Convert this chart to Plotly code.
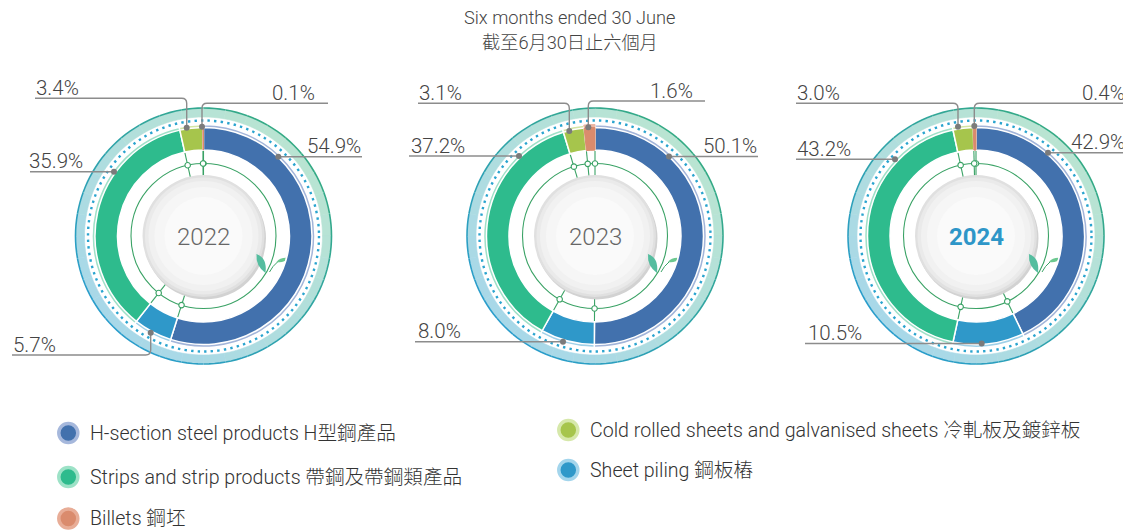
import math
import plotly.graph_objects as go

# ---------------- data ----------------
categories = [
    "H-section steel products H型鋼產品",
    "Sheet piling 鋼板樁",
    "Strips and strip products 帶鋼及帶鋼類產品",
    "Cold rolled sheets and galvanised sheets 冷軋板及鍍鋅板",
    "Billets 鋼坯",
]
years = ["2022", "2023", "2024"]
share_2022 = [54.9, 5.7, 35.9, 3.4, 0.1]
share_2023 = [50.1, 8.0, 37.2, 3.1, 1.6]
share_2024 = [42.9, 10.5, 43.2, 3.0, 0.4]
title_lines = ["Six months ended 30 June", "截至6月30日止六個月"]
shares = {"2022": share_2022, "2023": share_2023, "2024": share_2024}

# ---------------- style / layout ----------------
W, H = 1131, 531
OFF = 8  # page body margin of the browser
FONT = "Roboto, Liberation Sans, Noto Sans CJK TC, sans-serif"
main_colors = ["#4271ad", "#2f98c9", "#2ebb8d", "#a6c54c", "#da8b6d"]
light_colors = ["#a3b5d9", "#9fd0e8", "#a0e0c8", "#d3e5a5", "#ecb7a3"]
centers = [(203.5, 236), (595, 236), (976, 236)]
R_OUTER_LINE, R_BAND_IN = 128, 119
R_DOTS = 115.5
R_RIM, R_MAIN, R_IN = 111.5, 108.5, 86
R_THIN, R_DISK = 72.5, 61

# label layout per chart, per slice: (dot_x, dot_y, line_y, line_end_x, text_x, text_anchor)
label_layout = {
    "2022": [(278.3, 156.7, 156.7, 362, 362, "right"),
             (150.7, 332.7, 355.0, 12, 12, "left"),
             (114.0, 171.7, 171.7, 30, 28, "left"),
             (186.7, 127.7, 98.3, 35, 35, "left"),
             (202.0, 126.7, 103.3, 328, 316, "right")],
    "2023": [(669.0, 156.5, 156.5, 758, 758, "right"),
             (563.0, 341.7, 341.7, 415, 417, "left"),
             (519.0, 156.0, 156.0, 409, 410, "left"),
             (569.3, 131.0, 103.3, 418, 418, "left"),
             (588.3, 127.3, 101.0, 705, 694, "right")],
    "2024": [(1048.0, 152.7, 152.7, 1127, 1126, "right"),
             (981.7, 343.5, 343.5, 805, 807, "left"),
             (895.0, 159.3, 159.3, 796, 796, "left"),
             (958.0, 126.7, 103.3, 796, 796, "left"),
             (974.3, 126.0, 103.3, 1127, 1126, "right")],
}
legend_layout = [  # (slice index, marker x, marker y)
    (0, 68.3, 433), (2, 68.3, 477), (4, 68.3, 518.5),
    (3, 568.3, 430), (1, 568.3, 470),
]
legend_halo = ["#a6b8dc", "#a3d5ec", "#9de2c7", "#d6e8aa", "#e8ad97"]

PW, PH = W - OFF, H - OFF  # figure size inside the page margin


def mix(c1, c2, t):
    a = [int(c1[i:i + 2], 16) for i in (1, 3, 5)]
    b = [int(c2[i:i + 2], 16) for i in (1, 3, 5)]
    return "#" + "".join(f"{round(a[k] + (b[k] - a[k]) * t):02x}" for k in range(3))


def pt(cx, cy, r, th):
    return cx + r * math.sin(th), cy - r * math.cos(th)


fig = go.Figure()
shapes = []
annotations = []

# ---- title ----
annotations.append(dict(x=569.5, y=17, text=title_lines[0], showarrow=False, xref="x", yref="y",
                        borderpad=0, font=dict(family=FONT, size=18.2, color="#444444", weight=300)))
annotations.append(dict(x=569.5, y=42.5, text=title_lines[1], showarrow=False, xref="x", yref="y",
                        borderpad=0, font=dict(family=FONT, size=18.2, color="#444444", weight=300)))

conn_x, conn_y = [], []
for ci, yr in enumerate(years):
    cx, cy = centers[ci]
    vals = shares[yr]
    total = sum(vals)

    # outer gradient band + outline
    N = 36
    for j in range(N):
        a0, a1 = 2 * math.pi * j / N, 2 * math.pi * (j + 1) / N
        am = (a0 + a1) / 2
        t = 0.5 + 0.5 * (math.sin(am) + math.cos(am)) / math.sqrt(2)
        col = mix("#a8d8e8", "#b9e4d2", t)
        lcol = mix("#2a9dcc", "#34aa84", t)
        pts_o = [pt(cx, cy, R_OUTER_LINE - 0.5, a0 + (a1 - a0) * k / 4) for k in range(5)]
        pts_i = [pt(cx, cy, R_BAND_IN, a1 - (a1 - a0) * k / 4) for k in range(5)]
        path = "M " + " L ".join(f"{x:.2f},{y:.2f}" for x, y in pts_o + pts_i) + " Z"
        shapes.append(dict(type="path", path=path, xref="x", yref="y", layer="below",
                           fillcolor=col, line=dict(color=col, width=0.6)))
        pts_l = [pt(cx, cy, R_OUTER_LINE, a0 + (a1 - a0) * k / 4) for k in range(5)]
        lpath = "M " + " L ".join(f"{x:.2f},{y:.2f}" for x, y in pts_l)
        shapes.append(dict(type="path", path=lpath, xref="x", yref="y", layer="below",
                           line=dict(color=lcol, width=1.6)))

    # dotted ring
    shapes.append(dict(type="circle", xref="x", yref="y", layer="below",
                       x0=cx - R_DOTS, x1=cx + R_DOTS, y0=cy - R_DOTS, y1=cy + R_DOTS,
                       line=dict(color="#2aa4cf", width=2.4, dash="2.4px,4.2px")))

    # thin inner green circle
    shapes.append(dict(type="circle", xref="x", yref="y", layer="below",
                       x0=cx - R_THIN, x1=cx + R_THIN, y0=cy - R_THIN, y1=cy + R_THIN,
                       line=dict(color="#3aa265", width=1.1)))

    # connector lines at slice boundaries
    cum = 0.0
    for v in vals:
        th = 2 * math.pi * cum / total
        x0, y0 = pt(cx, cy, R_DISK - 2, th)
        x1, y1 = pt(cx, cy, R_IN + 1, th)
        shapes.append(dict(type="line", xref="x", yref="y", layer="below",
                           x0=x0, y0=y0, x1=x1, y1=y1, line=dict(color="#3aa265", width=1.1)))
        xc, yc = pt(cx, cy, R_THIN, th)
        conn_x.append(xc)
        conn_y.append(yc)
        cum += v

    # gray centre disk
    shapes.append(dict(type="circle", xref="x", yref="y", layer="below",
                       x0=cx - R_DISK + 1.5, x1=cx + R_DISK + 1.5, y0=cy - R_DISK + 2.5, y1=cy + R_DISK + 2.5,
                       fillcolor="#d2d2d2", line=dict(width=0)))
    for rr, col in [(R_DISK, "#e0e0e0"), (R_DISK - 2.5, "#eaeaea"), (R_DISK - 6, "#f1f1f1"),
                    (R_DISK - 12, "#f6f6f6"), (R_DISK - 22, "#fafafa")]:
        shapes.append(dict(type="circle", xref="x", yref="y", layer="below",
                           x0=cx - rr, x1=cx + rr, y0=cy - rr, y1=cy + rr,
                           fillcolor=col, line=dict(width=0)))

    # leaves
    def rel(dx, dy):
        return f"{cx + dx:.1f},{cy + dy:.1f}"
    shapes.append(dict(type="path", xref="x", yref="y", layer="below",
                       path=f"M {rel(53,18)} Q {rel(64,22)} {rel(62,37)} Q {rel(52,30)} {rel(53,18)} Z",
                       fillcolor="#55bd9f", line=dict(width=0)))
    shapes.append(dict(type="path", xref="x", yref="y", layer="below",
                       path=f"M {rel(73,26)} Q {rel(77,21)} {rel(85,22)} Q {rel(80,27.5)} {rel(73,26)} Z",
                       fillcolor="#6cc88f", line=dict(width=0)))
    shapes.append(dict(type="path", xref="x", yref="y", layer="below",
                       path=f"M {rel(74,26)} Q {rel(69,30)} {rel(66,36)}",
                       line=dict(color="#3aa265", width=1)))

    # donut: light rim + main ring
    line_ws = [1.5, 1.5, 1.5, 1.5, 1.0]
    for r, cols, lc in [(R_RIM, light_colors, ["white"] * 4 + [light_colors[4]]),
                        (R_MAIN, main_colors, ["white"] * 4 + [main_colors[4]])]:
        fig.add_trace(go.Pie(
            values=vals, labels=categories, sort=False, direction="clockwise", rotation=0,
            hole=R_IN / r, textinfo="none", showlegend=False, hoverinfo="label+value",
            domain=dict(x=[(cx - r - OFF) / PW, (cx + r - OFF) / PW],
                        y=[1 - (cy + r - OFF) / PH, 1 - (cy - r - OFF) / PH]),
            marker=dict(colors=cols, line=dict(color=lc, width=line_ws)),
        ))

    # year label
    if yr == "2024":
        annotations.append(dict(x=cx, y=cy + 0.5, text=f"<b>{yr}</b>", showarrow=False, xref="x", yref="y",
                                font=dict(family=FONT, size=24, color="#2e96c8")))
    else:
        annotations.append(dict(x=cx, y=cy + 0.5, text=yr, showarrow=False, xref="x", yref="y",
                                font=dict(family=FONT, size=24, color="#666666", weight=300)))

    # percentage labels with leader lines
    for si, v in enumerate(vals):
        dx_, dy_, ly, ex, tx, anchor = label_layout[yr][si]
        if abs(dy_ - ly) < 1:
            path = f"M {ex},{ly} L {dx_},{ly}"
            dot_y = ly
        else:
            sx = 1 if ex > dx_ else -1
            sy = 1 if dy_ > ly else -1
            rc = 5
            path = (f"M {ex},{ly} L {dx_ + sx * rc},{ly} Q {dx_},{ly} {dx_},{ly + sy * rc} "
                    f"L {dx_},{dy_}")
            dot_y = dy_
        shapes.append(dict(type="path", path=path, xref="x", yref="y", layer="above",
                           line=dict(color="#8c8c8c", width=1.4)))
        shapes.append(dict(type="circle", xref="x", yref="y", layer="above",
                           x0=dx_ - 3, x1=dx_ + 3, y0=dot_y - 3, y1=dot_y + 3,
                           fillcolor="#7b7b7b", line=dict(width=0)))
        annotations.append(dict(x=tx, y=ly - 10.3, text=f"{v:.1f}%", showarrow=False,
                                xref="x", yref="y", xanchor=anchor, yanchor="middle", borderpad=0,
                                font=dict(family=FONT, size=20.5, color="#444444", weight=300)))

# small connector rings
fig.add_trace(go.Scatter(x=conn_x, y=conn_y, mode="markers", hoverinfo="skip", showlegend=False,
                         marker=dict(size=5.5, color="white", line=dict(color="#3aa265", width=1.1))))

# legend
for si, mx, my in legend_layout:
    fig.add_trace(go.Scatter(x=[mx], y=[my], mode="markers", hoverinfo="skip", showlegend=False,
                             marker=dict(size=19, color=main_colors[si],
                                         line=dict(color=legend_halo[si], width=3.5))))
    annotations.append(dict(x=mx + 20.5, y=my, text=categories[si], showarrow=False, xref="x", yref="y",
                            xanchor="left", yanchor="middle", borderpad=0,
                            font=dict(family=FONT, size=19.6, color="#333333", weight=300)))

fig.update_layout(
    width=PW, height=PH, margin=dict(l=0, r=0, t=0, b=0),
    paper_bgcolor="white", plot_bgcolor="white",
    xaxis=dict(range=[OFF, W], visible=False, fixedrange=True, domain=[0, 1]),
    yaxis=dict(range=[H, OFF], visible=False, fixedrange=True, domain=[0, 1]),
    shapes=shapes, annotations=annotations, showlegend=False,
)
fig.write_html("out.html")
